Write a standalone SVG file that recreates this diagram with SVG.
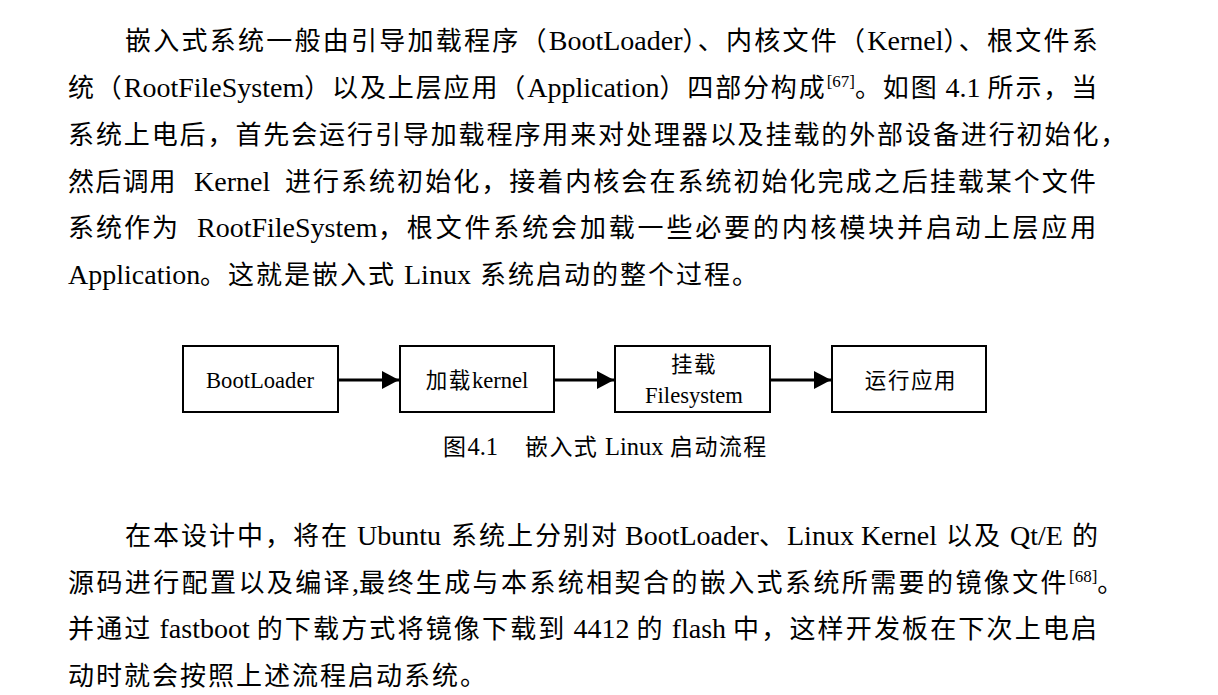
<svg xmlns="http://www.w3.org/2000/svg" width="1218" height="695" viewBox="0 0 1218 695">
<style>
.t { font-family: "Liberation Serif", "Noto Sans CJK SC", serif; font-size: 28px; fill: #000; }
.c { font-family: "Noto Sans CJK SC", "Liberation Serif", sans-serif; font-size: 26px; }
.sup { font-size: 17px; }
.box { fill: #fff; stroke: #000; stroke-width: 2; }
.lbl { font-family: "Liberation Serif", "Noto Sans CJK SC", serif; font-size: 22.6px; fill: #000; text-anchor: middle; }
.bc { font-family: "Noto Sans CJK SC", "Liberation Serif", sans-serif; font-size: 21.5px; letter-spacing: 1.6px; }
.cap { font-family: "Liberation Serif", "Noto Sans CJK SC", serif; font-size: 24.5px; fill: #000; }
.cc { font-family: "Noto Sans CJK SC", "Liberation Serif", sans-serif; font-size: 23px; letter-spacing: 1.4px; }
.edge { stroke: #000; stroke-width: 3; fill: none; }
</style>
<defs>
<marker id="ah" markerWidth="17" markerHeight="18" refX="17" refY="9" orient="auto" markerUnits="userSpaceOnUse">
<path d="M0,0 L17,9 L0,18 Z" fill="#000"/>
</marker>
</defs>
<rect width="1218" height="695" fill="#fff"/>

<g id="para1">
<text class="t" x="125" y="50"><tspan class="c" letter-spacing="2.25">嵌入式系统一般由引导加载程序（</tspan>BootLoader<tspan class="c" letter-spacing="2.25">）、内核文件（</tspan>Kernel<tspan class="c" letter-spacing="2.25">）、根文件系</tspan></text>
<text class="t" x="68" y="97"><tspan class="c" letter-spacing="1.87">统（</tspan>RootFileSystem<tspan class="c" letter-spacing="1.87">）以及上层应用（</tspan>Application<tspan class="c" letter-spacing="1.87">）四部分构成</tspan><tspan class="sup" dy="-10">[67]</tspan><tspan class="c" letter-spacing="1.87" dy="10">。如图</tspan> 4.1 <tspan class="c" letter-spacing="1.87">所示，当</tspan></text>
<text class="t" x="68" y="143.5"><tspan class="c" letter-spacing="1.9">系统上电后，首先会运行引导加载程序用来对处理器以及挂载的外部设备进行初始化，</tspan></text>
<text class="t" x="68" y="190.5"><tspan class="c" letter-spacing="1.2">然后调用</tspan><tspan x="194">Kernel</tspan><tspan class="c" x="285" letter-spacing="2.03">进行系统初始化，接着内核会在系统初始化完成之后挂载某个文件</tspan></text>
<text class="t" x="68" y="237"><tspan class="c" letter-spacing="2">系统作为</tspan><tspan x="197">RootFileSystem</tspan><tspan class="c" x="378" letter-spacing="2.84">，根文件系统会加载一些必要的内核模块并启动上层应用</tspan></text>
<text class="t" x="68" y="284">Application<tspan class="c" x="200" letter-spacing="2">。这就是嵌入式</tspan><tspan x="404">Linux</tspan><tspan class="c" x="480" letter-spacing="2">系统启动的整个过程。</tspan></text>
</g>

<g id="connectors">
<line class="edge" x1="338" y1="380" x2="399" y2="380" marker-end="url(#ah)"/>
<line class="edge" x1="554" y1="380" x2="614" y2="380" marker-end="url(#ah)"/>
<line class="edge" x1="770" y1="380" x2="831" y2="380" marker-end="url(#ah)"/>
</g>

<g id="node-bootloader">
<rect class="box" x="183" y="346" width="155" height="66"/>
<text class="lbl" x="260" y="388">BootLoader</text>
</g>
<g id="node-kernel">
<rect class="box" x="400" y="346" width="154" height="66"/>
<text class="lbl" x="477" y="388"><tspan class="bc">加载</tspan>kernel</text>
</g>
<g id="node-filesystem">
<rect class="box" x="615" y="346" width="155" height="66"/>
<text class="lbl" x="694" y="372"><tspan class="bc">挂载</tspan></text>
<text class="lbl" x="694" y="403">Filesystem</text>
</g>
<g id="node-app">
<rect class="box" x="832" y="346" width="154" height="66"/>
<text class="lbl" x="911" y="388"><tspan class="bc">运行应用</tspan></text>
</g>

<g id="caption">
<text class="cap" x="443" y="455"><tspan class="cc">图</tspan>4.1<tspan class="cc" x="525">嵌入式</tspan><tspan x="605">Linux</tspan><tspan class="cc" x="670">启动流程</tspan></text>
</g>

<g id="para2">
<text class="t" x="125" y="545"><tspan class="c" letter-spacing="2">在本设计中，将在</tspan><tspan x="357">Ubuntu</tspan><tspan class="c" x="451" letter-spacing="2">系统上分别对</tspan><tspan x="625">BootLoader</tspan><tspan class="c" x="759" letter-spacing="2">、</tspan><tspan x="787">Linux Kernel</tspan><tspan class="c" x="946" letter-spacing="2">以及</tspan><tspan x="1010">Qt/E</tspan><tspan class="c" x="1072">的</tspan></text>
<text class="t" x="68" y="592"><tspan class="c" letter-spacing="2.4">源码进行配置以及编译</tspan>,<tspan class="c" letter-spacing="2.4">最终生成与本系统相契合的嵌入式系统所需要的镜像文件</tspan><tspan class="sup" dy="-10">[68]</tspan><tspan class="c" dy="10">。</tspan></text>
<text class="t" x="68" y="638"><tspan class="c" letter-spacing="2.16">并通过</tspan> fastboot <tspan class="c" letter-spacing="2.16">的下载方式将镜像下载到</tspan> 4412 <tspan class="c" letter-spacing="2.16">的</tspan> flash <tspan class="c" letter-spacing="2.16">中，这样开发板在下次上电启</tspan></text>
<text class="t" x="68" y="685"><tspan class="c" letter-spacing="2">动时就会按照上述流程启动系统。</tspan></text>
</g>
</svg>
